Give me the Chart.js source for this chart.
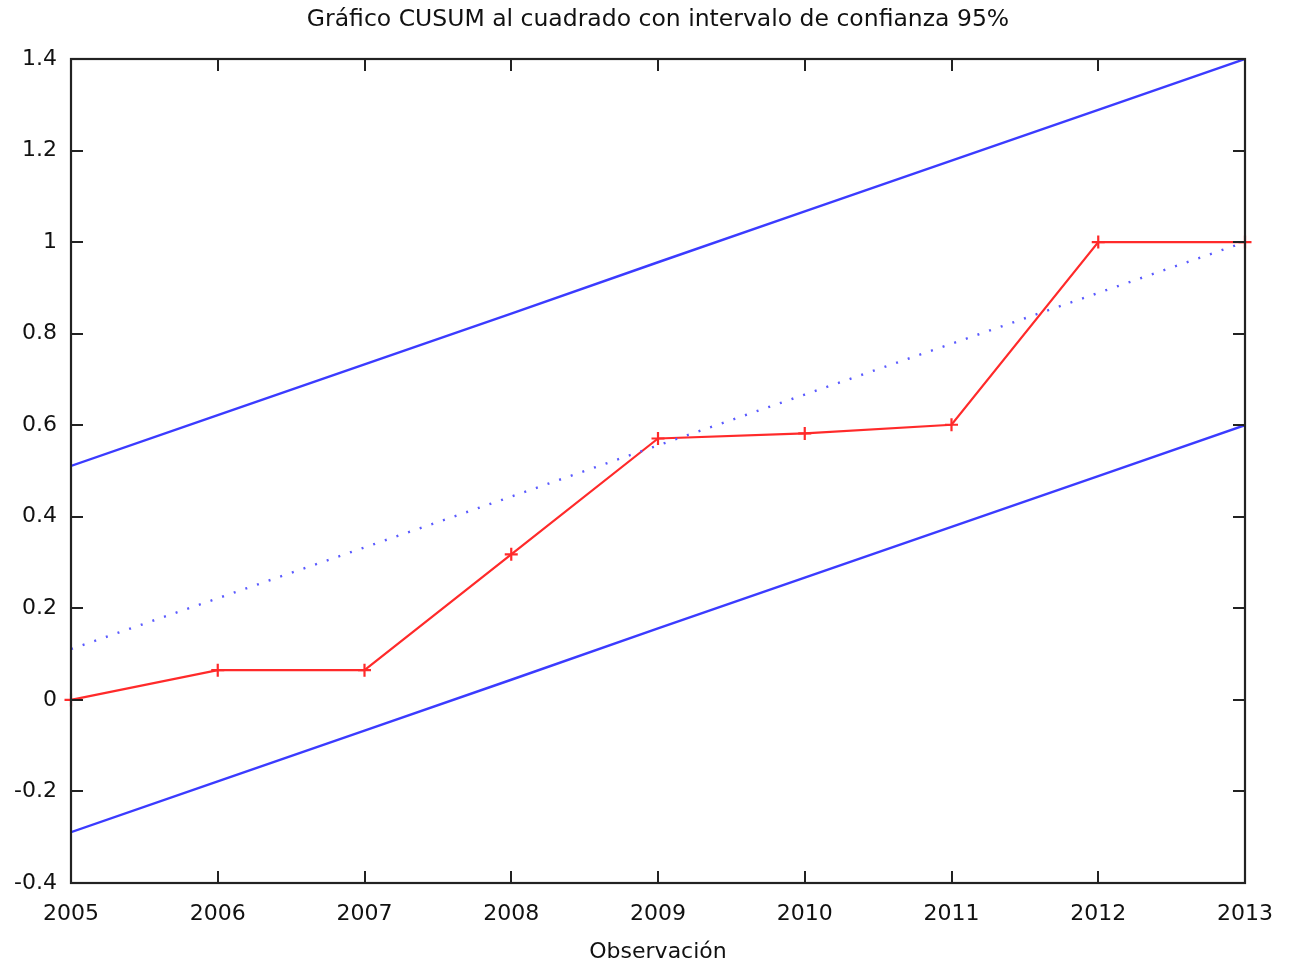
<!DOCTYPE html>
<html>
<head>
<meta charset="utf-8">
<script src="https://cdn.jsdelivr.net/npm/chart.js@4"></script>
<style>
  body { margin: 0; background: #fff; }
  canvas { display: block; }
</style>
</head>
<body>
<canvas id="cusumChart" width="1291" height="965"></canvas>
<script>
// Observaciones (eje x)
const years = [2005, 2006, 2007, 2008, 2009, 2010, 2011, 2012, 2013];
// CUSUM al cuadrado
const cusumsq = [0, 0.065, 0.065, 0.318, 0.571, 0.582, 0.601, 1.0, 1.0];
// linea central (esperada) y bandas de confianza 95%
const center = [0.111, 0.222, 0.333, 0.444, 0.556, 0.667, 0.778, 0.889, 1.0];
const upper = [0.511, 0.622, 0.733, 0.844, 0.956, 1.067, 1.178, 1.289, 1.4];
const lower = [-0.289, -0.178, -0.067, 0.044, 0.156, 0.267, 0.378, 0.489, 0.6];
// etiquetas del eje y
const yTicks = [-0.4, -0.2, 0, 0.2, 0.4, 0.6, 0.8, 1, 1.2, 1.4];
const chartTitle = 'Gráfico CUSUM al cuadrado con intervalo de confianza 95%';

const pts = arr => years.map((x, i) => ({ x: x, y: arr[i] }));
const FONT = 'DejaVu Sans';

// gnuplot-like frame with inward ticks on all four sides, title centred on the plot
const framePlugin = {
  id: 'frame',
  afterDatasetsDraw(chart) {
    const { ctx, chartArea: a, scales } = chart;
    const len = 12;
    ctx.save();
    ctx.strokeStyle = '#222';
    ctx.lineWidth = 2;
    ctx.beginPath();
    years.forEach(v => {
      const x = Math.round(scales.x.getPixelForValue(v));
      ctx.moveTo(x, a.bottom); ctx.lineTo(x, a.bottom - len);
      ctx.moveTo(x, a.top); ctx.lineTo(x, a.top + len);
    });
    yTicks.forEach(v => {
      const y = Math.round(scales.y.getPixelForValue(v));
      ctx.moveTo(a.left, y); ctx.lineTo(a.left + len, y);
      ctx.moveTo(a.right, y); ctx.lineTo(a.right - len, y);
    });
    ctx.stroke();
    ctx.lineWidth = 2.2;
    ctx.strokeRect(a.left, a.top, a.right - a.left, a.bottom - a.top);

    ctx.fillStyle = '#111';
    ctx.font = '23.5px "' + FONT + '"';
    ctx.textAlign = 'center';
    ctx.textBaseline = 'middle';
    ctx.fillText(chartTitle, (a.left + a.right) / 2, 20);
    ctx.restore();
  }
};

new Chart(document.getElementById('cusumChart'), {
  type: 'line',
  data: {
    datasets: [
      {
        data: pts(upper),
        borderColor: '#3b3bff',
        borderWidth: 2.4,
        pointRadius: 0
      },
      {
        data: pts(lower),
        borderColor: '#3b3bff',
        borderWidth: 2.4,
        pointRadius: 0
      },
      {
        data: pts(center),
        borderColor: '#5a5aff',
        borderWidth: 2.4,
        borderDash: [2, 10.3],
        pointRadius: 0
      },
      {
        data: pts(cusumsq),
        borderColor: '#ff2a2a',
        borderWidth: 2.2,
        pointStyle: 'cross',
        pointRadius: 6.5,
        pointBorderWidth: 2.2,
        pointBorderColor: '#ff2a2a',
        clip: false
      }
    ]
  },
  options: {
    responsive: false,
    devicePixelRatio: 1,
    animation: false,
    layout: { padding: { left: 0, right: 46, top: 59, bottom: 0 } },
    plugins: {
      legend: { display: false },
      tooltip: { enabled: false },
      title: { display: false }
    },
    scales: {
      x: {
        type: 'linear',
        min: 2005,
        max: 2013,
        afterBuildTicks: s => { s.ticks = years.map(v => ({ value: v })); },
        afterFit: s => { s.height = 82; },
        grid: { display: false, drawTicks: false },
        border: { display: false },
        ticks: {
          color: '#111',
          padding: 18,
          maxRotation: 0,
          font: { family: FONT, size: 22 },
          callback: v => String(v)
        },
        title: {
          display: true,
          text: 'Observación',
          color: '#111',
          font: { family: FONT, size: 22 },
          padding: { top: 2, bottom: 0 }
        }
      },
      y: {
        type: 'linear',
        min: -0.4,
        max: 1.4,
        afterBuildTicks: s => { s.ticks = yTicks.map(v => ({ value: v })); },
        afterFit: s => { s.width = 71; },
        grid: { display: false, drawTicks: false },
        border: { display: false },
        ticks: {
          color: '#111',
          padding: 14,
          font: { family: FONT, size: 22 },
          callback: v => String(Number(v.toFixed(1)))
        }
      }
    }
  },
  plugins: [framePlugin]
});
</script>
</body>
</html>
